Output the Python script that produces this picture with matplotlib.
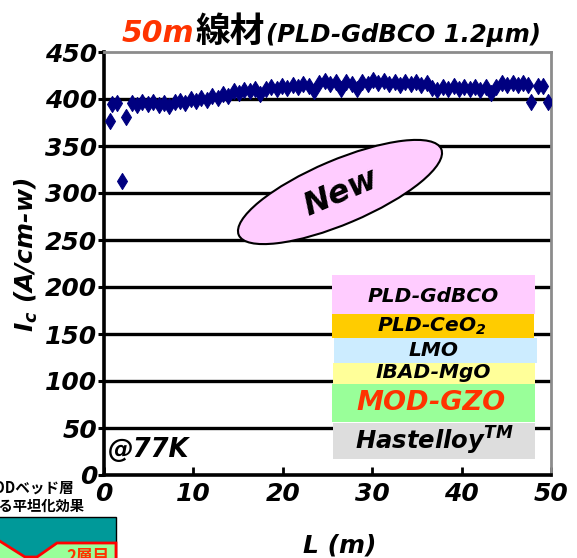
import matplotlib
matplotlib.use("Agg")
import matplotlib.pyplot as plt
from matplotlib.patches import Rectangle, Ellipse, Polygon
from matplotlib.path import Path

# ---- data -------------------------------------------------------------
# start-of-tape points (positions in m, Ic in A/cm-w)
L_start = [0.7, 0.9, 1.4, 2.0, 2.5]
Ic_start = [377, 395, 396, 313, 381]

# main run of the 50 m tape
L_main = [3.1, 3.7, 4.3, 4.9, 5.5, 6.1, 6.7, 7.3, 7.9, 8.5,
          9.1, 9.7, 10.3, 10.9, 11.5, 12.1, 12.7, 13.3, 13.9, 14.5,
          15.1, 15.7, 16.3, 16.9, 17.5, 18.1, 18.7, 19.3, 19.9, 20.5,
          21.1, 21.7, 22.3, 22.9, 23.5, 24.1, 24.7, 25.3, 25.9, 26.5,
          27.1, 27.7, 28.3, 28.9, 29.5, 30.1, 30.7, 31.3, 31.9, 32.5,
          33.1, 33.7, 34.3, 34.9, 35.5, 36.1, 36.7, 37.3, 37.9, 38.5,
          39.1, 39.7, 40.3, 40.9, 41.5, 42.1, 42.7, 43.3, 43.9, 44.5,
          45.1, 45.7, 46.3, 46.9, 47.4]
Ic_main = [396, 394, 397, 395, 397, 394, 396, 393, 397, 398,
           396, 400, 398, 401, 399, 403, 401, 405, 403, 408,
           406, 410, 408, 411, 405, 411, 413, 411, 414, 412,
           415, 413, 416, 414, 408, 417, 419, 416, 418, 411,
           418, 416, 411, 418, 416, 420, 417, 419, 416, 418,
           415, 418, 416, 418, 415, 417, 412, 410, 413, 411,
           414, 411, 413, 411, 413, 410, 413, 406, 413, 417,
           415, 417, 415, 417, 415]

# end-of-tape points
L_end = [47.8, 48.6, 49.1, 49.7]
Ic_end = [397, 414, 414, 397]

x_ticks = [0, 10, 20, 30, 40, 50]
y_ticks = [0, 50, 100, 150, 200, 250, 300, 350, 400, 450]

layers = ["PLD-GdBCO", "PLD-CeO$_2$", "LMO", "IBAD-MgO", "MOD-GZO",
          "Hastelloy$^{TM}$"]

# ---- style ------------------------------------------------------------
plt.rcParams["font.family"] = ["DejaVu Sans", "Noto Sans CJK JP"]
plt.rcParams["font.weight"] = "bold"
plt.rcParams["font.style"] = "italic"
plt.rcParams["mathtext.fontset"] = "custom"
plt.rcParams["mathtext.rm"] = "DejaVu Sans:bold:italic"
plt.rcParams["mathtext.it"] = "DejaVu Sans:bold:italic"
plt.rcParams["mathtext.bf"] = "DejaVu Sans:bold:italic"

W, H = 577, 558
fig = plt.figure(figsize=(W / 100, H / 100), dpi=100)
T = fig.dpi_scale_trans


def P(x, y):
    """pixel position (from top-left) -> inches for dpi_scale_trans"""
    return (x / 100.0, (H - y) / 100.0)


ax = fig.add_axes([104 / W, (H - 475) / H, (551 - 104) / W, (475 - 52) / H])
ax.set_xlim(0, 50)
ax.set_ylim(0, 450)

diamond = Path([(0, 1), (0.62, 0), (0, -1), (-0.62, 0), (0, 1)],
               [Path.MOVETO, Path.LINETO, Path.LINETO, Path.LINETO,
                Path.CLOSEPOLY])
for xs, ys in ((L_start, Ic_start), (L_main, Ic_main), (L_end, Ic_end)):
    ax.plot(xs, ys, linestyle="none", marker=diamond, markersize=11.5,
            color="#000080", markeredgewidth=0.8, zorder=3)

ax.set_xticks(x_ticks)
ax.set_yticks(y_ticks)
ax.set_xticklabels([str(v) for v in x_ticks])
ax.set_yticklabels([str(v) for v in y_ticks])
ax.tick_params(axis="x", direction="in", length=6, width=2, pad=5,
               labelsize=18)
ax.tick_params(axis="y", direction="out", length=4, width=2.2, pad=1,
               labelsize=18)
for lab in ax.get_xticklabels() + ax.get_yticklabels():
    lab.set_fontweight("bold")
    lab.set_fontstyle("italic")

ax.yaxis.grid(True, color="black", linewidth=2.4)
ax.get_ygridlines()[-1].set_visible(False)
ax.get_ygridlines()[0].set_visible(False)

ax.spines["left"].set_linewidth(2.6)
ax.spines["bottom"].set_linewidth(2.6)
ax.spines["left"].set_color("black")
ax.spines["bottom"].set_color("black")
ax.spines["top"].set_color("#8c8c8c")
ax.spines["right"].set_color("#8c8c8c")
ax.spines["top"].set_linewidth(2)
ax.spines["right"].set_linewidth(2)

ax.set_xlabel("L (m)", fontsize=18, fontweight="bold", fontstyle="italic")
ax.xaxis.set_label_coords(0.527, -0.138)
ax.set_ylabel("$I_c$ (A/cm-w)", fontsize=18, fontweight="bold",
              fontstyle="italic")
ax.yaxis.set_label_coords(-0.143, 0.52)

# ---- title ------------------------------------------------------------
fig.canvas.draw()
renderer = fig.canvas.get_renderer()
title_parts = [("50m", "#FF3300", 21.5, ["DejaVu Sans"], "italic"),
               ("線材", "black", 25, ["Noto Sans CJK JP"], "normal"),
               ("(PLD-GdBCO 1.2μm)", "black", 17.5, ["DejaVu Sans"], "italic")]
x_cur = 122
for txt, col, size, fam, sty in title_parts:
    t = fig.text(*P(x_cur, 42), txt, transform=T, color=col, fontsize=size,
                 family=fam, fontweight="bold", fontstyle=sty,
                 ha="left", va="baseline")
    bb = t.get_window_extent(renderer)
    x_cur += bb.width + 1

# ---- layer stack ------------------------------------------------------
layer_boxes = [  # x0, x1, y0, y1 (pixels), face colour
    (332, 535, 275, 314, "#FFCCFF"),
    (332, 534, 314, 338, "#FFCC00"),
    (334, 537, 338, 363, "#CCECFF"),
    (333, 535, 363, 384, "#FFFF99"),
    (332, 535, 384, 422, "#99FF99"),
    (333, 535, 423, 459, "#DDDDDD"),
]
layer_text = [  # x, y centre (pixels), size, colour
    (433, 296, 14.5, "black"),
    (432, 326, 14.5, "black"),
    (434, 351, 14.5, "black"),
    (433, 373, 14.5, "black"),
    (431, 403, 19.5, "#FF3300"),
    (434, 441, 17.5, "black"),
]
for (x0, x1, y0, y1, fc), name, (tx, ty, ts, tc) in zip(layer_boxes, layers,
                                                         layer_text):
    fig.add_artist(Rectangle(P(x0, y1), (x1 - x0) / 100, (y1 - y0) / 100,
                             transform=T, facecolor=fc, edgecolor="none",
                             zorder=4))
    fig.text(*P(tx, ty), name, transform=T, fontsize=ts, color=tc,
             fontweight="bold", fontstyle="italic", ha="center",
             va="center", zorder=5)

# ---- "New" badge -------------------------------------------------------
fig.add_artist(Ellipse(P(340, 192), 2.2, 0.64, angle=23, transform=T,
                       facecolor="#FFCCFF", edgecolor="black",
                       linewidth=1.5, zorder=4))
fig.text(*P(341, 193), "New", transform=T, fontsize=23, rotation=23,
         fontweight="bold", fontstyle="italic", ha="center", va="center",
         rotation_mode="anchor", zorder=5)

# ---- temperature note --------------------------------------------------
fig.text(*P(108, 450), "@77K", transform=T, fontsize=18.5,
         fontweight="bold", fontstyle="italic", ha="left", va="center",
         zorder=5)

# ---- planarisation inset (bottom-left) ---------------------------------
fig.text(*P(74, 488), "MODベッド層", transform=T, fontsize=10.5,
         family=["Noto Sans CJK JP"], fontweight="bold", fontstyle="normal",
         ha="right", va="center")
fig.text(*P(85, 507), "による平坦化効果", transform=T, fontsize=10.3,
         family=["Noto Sans CJK JP"], fontweight="bold", fontstyle="normal",
         ha="right", va="center")
fig.add_artist(Rectangle(P(-2, 562), 1.18, 0.45, transform=T,
                         facecolor="#009999", edgecolor="black",
                         linewidth=1, zorder=2))
fig.add_artist(Polygon([P(-2, 540), P(25, 557), P(37, 557), P(57, 543),
                        P(116, 543), P(116, 562), P(-2, 562)],
                       closed=True, transform=T, facecolor="#99FF99",
                       edgecolor="#FF0000", linewidth=2, zorder=3))
fig.text(*P(88, 557), "2層目", transform=T, fontsize=12, color="#FF3300",
         family=["Noto Sans CJK JP"], fontweight="bold", fontstyle="normal",
         ha="center", va="center", zorder=4)

fig.savefig("out.png", dpi=100)
